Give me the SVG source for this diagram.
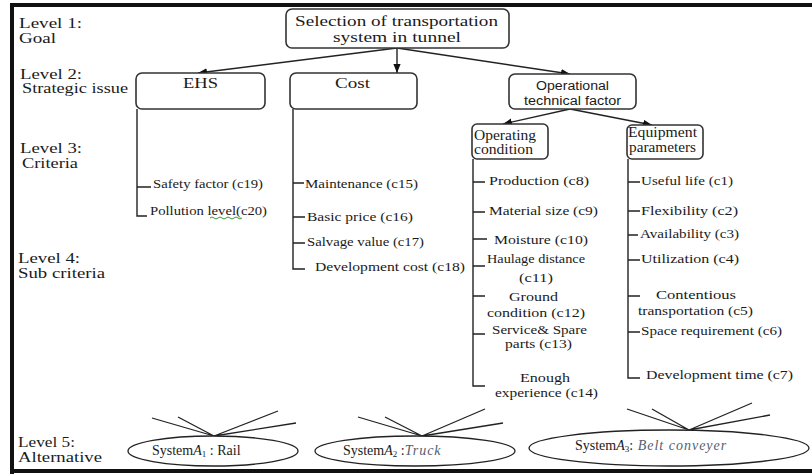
<svg xmlns="http://www.w3.org/2000/svg" width="812" height="476" viewBox="0 0 812 476">
<defs>
<marker id="ah" viewBox="0 0 10 10" refX="10" refY="5" markerWidth="9" markerHeight="9" markerUnits="userSpaceOnUse" orient="auto">
<path d="M0,1 L10,5 L0,9 z" fill="#111"/>
</marker>
</defs>
<style>
text{font-family:"Liberation Serif","Times New Roman",Tinos,"Noto Serif","DejaVu Serif","Nimbus Roman","FreeSerif",Times,serif;fill:#1a1a1a}
.lv{font-size:14px}
.sc{font-size:13px}
.box{fill:#fff;stroke:#333;stroke-width:1.6}
text.sans{font-family:"Liberation Sans",Arial,sans-serif;font-size:12px}
.ln{fill:none;stroke:#222;stroke-width:1.4}
.ar{fill:none;stroke:#222;stroke-width:1.4;marker-end:url(#ah)}
.fan{fill:none;stroke:#222;stroke-width:1.3}
.el{fill:#fff;stroke:#222;stroke-width:1.3}
.it{font-style:italic;fill:#556070;letter-spacing:1px}
</style>
<rect width="812" height="476" fill="#fff"/>
<g id="frame">
<rect x="10" y="3" width="802" height="4" fill="#111"/>
<rect x="10" y="3" width="4" height="471" fill="#111"/>
<rect x="10" y="469" width="802" height="4" fill="#111"/>
</g>
<g id="levels" class="lv">
<text x="19" y="28" textLength="63" lengthAdjust="spacingAndGlyphs">Level 1:</text>
<text x="19" y="43" textLength="37" lengthAdjust="spacingAndGlyphs">Goal</text>
<text x="20" y="79" textLength="62" lengthAdjust="spacingAndGlyphs">Level 2:</text>
<text x="22" y="93" textLength="106" lengthAdjust="spacingAndGlyphs">Strategic issue</text>
<text x="20" y="153" textLength="62" lengthAdjust="spacingAndGlyphs">Level 3:</text>
<text x="22" y="168" textLength="56" lengthAdjust="spacingAndGlyphs">Criteria</text>
<text x="18" y="263" textLength="62" lengthAdjust="spacingAndGlyphs">Level 4:</text>
<text x="18" y="278" textLength="87" lengthAdjust="spacingAndGlyphs">Sub criteria</text>
<text x="18" y="447" textLength="57" lengthAdjust="spacingAndGlyphs">Level 5:</text>
<text x="18" y="462" textLength="84" lengthAdjust="spacingAndGlyphs">Alternative</text>
</g>
<g id="connectors">
<line class="ar" x1="397" y1="48" x2="198" y2="73"/>
<line class="ar" x1="397" y1="48" x2="397" y2="73"/>
<line class="ar" x1="397" y1="48" x2="570" y2="74"/>
<line class="ar" x1="570" y1="109" x2="503" y2="124"/>
<line class="ar" x1="570" y1="109" x2="652" y2="125"/>
<path class="ln" d="M137,109 V216 H147 M137,187 H151"/>
<path class="ln" d="M293,109 V269 H305 M293,183 H304 M293,217 H305 M293,243 H305"/>
<path class="ln" d="M473,159 V386 H485 M473,182 H485 M473,212 H485 M473,239 H487 M473,266 H485 M473,296 H485 M473,334 H485"/>
<path class="ln" d="M628,159 V378 H640 M628,182 H640 M628,211 H640 M628,235 H638 M628,260 H640 M628,296 H640 M628,332 H640"/>
<path class="fan" d="M152,418 L214,436 M178,417 L214,436 M278,411 L214,436 M296,423 L214,436"/>
<path class="fan" d="M358,417 L422,436 M385,417 L422,436 M485,409 L422,436 M503,423 L422,436"/>
<path class="fan" d="M627,409 L689,430 M652,409 L689,430 M752,403 L689,430 M770,415 L689,430"/>
</g>
<g id="goal">
<rect class="box" x="286" y="9" width="223" height="39" rx="6"/>
<text x="295" y="26" font-size="15" textLength="203" lengthAdjust="spacingAndGlyphs">Selection of transportation</text>
<text x="333" y="42" font-size="15" textLength="128" lengthAdjust="spacingAndGlyphs">system in tunnel</text>
</g>
<g id="ehs">
<rect class="box" x="136" y="73" width="129" height="36" rx="6"/>
<text x="183" y="88" font-size="15" textLength="35" lengthAdjust="spacingAndGlyphs">EHS</text>
</g>
<g id="cost">
<rect class="box" x="290" y="73" width="127" height="36" rx="6"/>
<text x="335" y="88" font-size="15" textLength="35" lengthAdjust="spacingAndGlyphs">Cost</text>
</g>
<g id="operational">
<rect class="box" x="509" y="74" width="127" height="35" rx="6"/>
<text class="sans" x="536" y="90" textLength="73" lengthAdjust="spacingAndGlyphs">Operational</text>
<text class="sans" x="524" y="105" textLength="97" lengthAdjust="spacingAndGlyphs">technical factor</text>
</g>
<g id="operating">
<rect class="box" x="472" y="124" width="76" height="35" rx="5"/>
<text x="474" y="140" font-size="14" textLength="62" lengthAdjust="spacingAndGlyphs">Operating</text>
<text x="474" y="154" font-size="14" textLength="59" lengthAdjust="spacingAndGlyphs">condition</text>
</g>
<g id="equipment">
<rect class="box" x="627" y="125" width="76" height="34" rx="5"/>
<text x="628" y="137" font-size="14" textLength="69" lengthAdjust="spacingAndGlyphs">Equipment</text>
<text x="629" y="152" font-size="14" textLength="67" lengthAdjust="spacingAndGlyphs">parameters</text>
</g>
<g id="ehs-sub" class="sc">
<text x="153" y="188" textLength="110" lengthAdjust="spacingAndGlyphs">Safety factor (c19)</text>
<text x="150" y="215" textLength="117" lengthAdjust="spacingAndGlyphs">Pollution level(c20)</text>
<path d="M210,218 q2,-2 4,0 t4,0 t4,0 t4,0 t4,0 t4,0 t4,0 t4,0" fill="none" stroke="#3a9a3a" stroke-width="1"/>
</g>
<g id="cost-sub" class="sc">
<text x="305" y="188" textLength="113" lengthAdjust="spacingAndGlyphs">Maintenance (c15)</text>
<text x="307" y="221" textLength="106" lengthAdjust="spacingAndGlyphs">Basic price (c16)</text>
<text x="307" y="246" textLength="117" lengthAdjust="spacingAndGlyphs">Salvage value (c17)</text>
<text x="315" y="271" textLength="150" lengthAdjust="spacingAndGlyphs">Development cost (c18)</text>
</g>
<g id="operating-sub" class="sc">
<text x="489" y="185" textLength="100" lengthAdjust="spacingAndGlyphs">Production (c8)</text>
<text x="489" y="215" textLength="109" lengthAdjust="spacingAndGlyphs">Material size (c9)</text>
<text x="494" y="244" textLength="94" lengthAdjust="spacingAndGlyphs">Moisture (c10)</text>
<text x="487" y="263" textLength="98" lengthAdjust="spacingAndGlyphs">Haulage distance</text>
<text x="519" y="282" textLength="34" lengthAdjust="spacingAndGlyphs">(c11)</text>
<text x="509" y="301" textLength="49" lengthAdjust="spacingAndGlyphs">Ground</text>
<text x="487" y="317" textLength="98" lengthAdjust="spacingAndGlyphs">condition (c12)</text>
<text x="492" y="334" textLength="95" lengthAdjust="spacingAndGlyphs">Service&amp; Spare</text>
<text x="505" y="348" textLength="67" lengthAdjust="spacingAndGlyphs">parts (c13)</text>
<text x="520" y="382" textLength="50" lengthAdjust="spacingAndGlyphs">Enough</text>
<text x="495" y="397" textLength="103" lengthAdjust="spacingAndGlyphs">experience (c14)</text>
</g>
<g id="equipment-sub" class="sc">
<text x="641" y="185" textLength="92" lengthAdjust="spacingAndGlyphs">Useful life (c1)</text>
<text x="641" y="215" textLength="97" lengthAdjust="spacingAndGlyphs">Flexibility (c2)</text>
<text x="640" y="238" textLength="99" lengthAdjust="spacingAndGlyphs">Availability (c3)</text>
<text x="641" y="263" textLength="98" lengthAdjust="spacingAndGlyphs">Utilization (c4)</text>
<text x="656" y="299" textLength="80" lengthAdjust="spacingAndGlyphs">Contentious</text>
<text x="638" y="315" textLength="115" lengthAdjust="spacingAndGlyphs">transportation (c5)</text>
<text x="641" y="335" textLength="141" lengthAdjust="spacingAndGlyphs">Space requirement (c6)</text>
<text x="646" y="379" textLength="147" lengthAdjust="spacingAndGlyphs">Development time (c7)</text>
</g>
<g id="alt-rail">
<ellipse class="el" cx="213" cy="451" rx="85" ry="15"/>
<text x="152" y="455" font-size="14">System<tspan font-style="italic">A</tspan><tspan font-size="9" dy="2">1</tspan><tspan dy="-2"> : Rail</tspan></text>
</g>
<g id="alt-truck">
<ellipse class="el" cx="415" cy="451" rx="100" ry="15"/>
<text x="343" y="455" font-size="14">System<tspan font-style="italic">A</tspan><tspan font-size="9" dy="2">2</tspan><tspan dy="-2"> :</tspan><tspan class="it">Truck</tspan></text>
</g>
<g id="alt-belt">
<ellipse class="el" cx="669" cy="448" rx="140" ry="18"/>
<text x="575" y="450" font-size="14">System<tspan font-style="italic">A</tspan><tspan font-size="9" dy="2">3</tspan><tspan dy="-2">:</tspan><tspan class="it" letter-spacing="2"> Belt conveyer</tspan></text>
</g>
</svg>
